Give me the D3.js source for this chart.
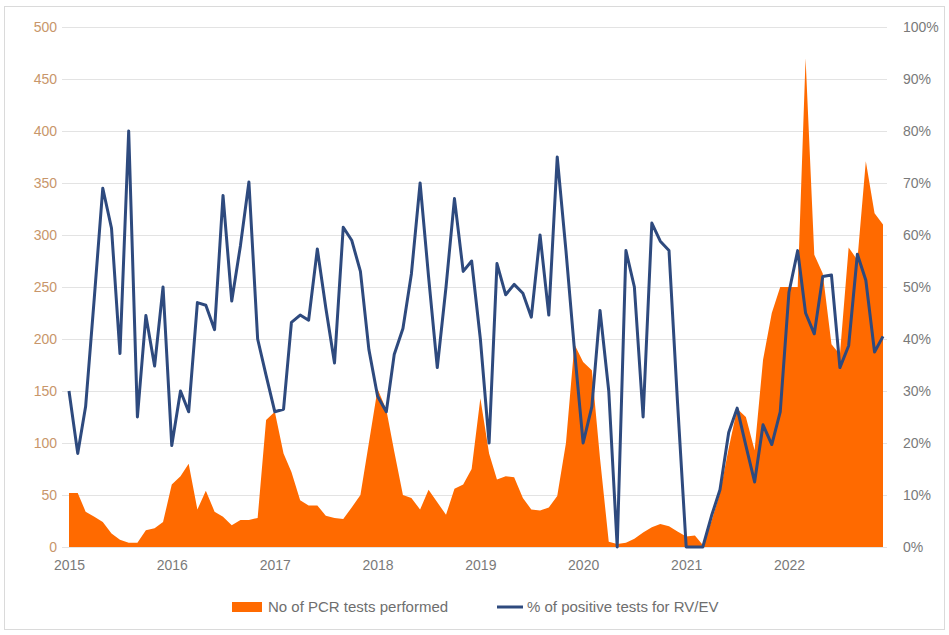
<!DOCTYPE html>
<html>
<head>
<meta charset="utf-8">
<script src="https://cdn.jsdelivr.net/npm/d3@7"></script>
<style>
  body { margin: 0; background: #fff; }
  text { font-family: "Liberation Sans", Arial, sans-serif; }
</style>
</head>
<body>
<div class="chart"></div>
<script>
// tick labels
var years = [2015, 2016, 2017, 2018, 2019, 2020, 2021, 2022];
var leftTicks = [0, 50, 100, 150, 200, 250, 300, 350, 400, 450, 500];
var rightTicks = [0, 0.1, 0.2, 0.3, 0.4, 0.5, 0.6, 0.7, 0.8, 0.9, 1];

// monthly number of PCR tests, Jan 2015 .. Dec 2022
var pcrTests = [
  52, 52, 34, 29, 24, 13, 7, 4, 4, 16, 18, 24,
  60, 68, 80, 36, 54, 34, 29, 21, 26, 26, 28, 122,
  130, 90, 72, 45, 40, 40, 30, 28, 27, 38, 50, 100,
  152, 132, 92, 50, 47, 36, 55, 43, 31, 56, 60, 75,
  143, 90, 65, 68, 67, 47, 36, 35, 38, 49, 100, 195,
  178, 170, 85, 5, 3, 4, 8, 14, 19, 22, 20, 15,
  10, 11, 2, 25, 52, 95, 133, 125, 93, 180, 225, 250,
  250, 250, 470, 281, 263, 195, 185, 288, 276, 371, 321, 310
];

// monthly % of positive tests for RV/EV
var pctPositive = [
  30, 18, 27, 48, 69, 61.3, 37.2, 80, 25, 44.5, 34.8, 50,
  19.5, 30, 26, 47, 46.5, 41.8, 67.6, 47.3, 58, 70.2, 40, 33,
  26, 26.5, 43.2, 44.6, 43.6, 57.3, 46, 35.4, 61.5, 59, 53, 38,
  29, 26, 37, 42, 52.5, 70, 52, 34.5, 50, 67, 53, 55,
  40, 20, 54.5, 48.5, 50.5, 48.8, 44.2, 60, 44.6, 75, 57, 38,
  20, 27, 45.5, 30, 0, 57, 50, 25, 62.3, 58.8, 57, 28,
  0, 0, 0, 6, 11, 22, 26.7, 19.5, 12.5, 23.5, 19.7, 26,
  49, 57, 45, 41, 52, 52.3, 34.5, 38.7, 56.3, 51.3, 37.5, 40.5
];

var seriesNames = ["No of PCR tests performed", "% of positive tests for RV/EV"];

var width = 949;
var height = 635;
var orange = "#FF6A00";
var blue = "#2E4A7E";

var months = d3.timeMonth.range(new Date(2015, 0, 1), new Date(2023, 0, 1));
var data = months.map(function (m, i) {
  return { date: m, tests: pcrTests[i], pct: pctPositive[i] / 100 };
});

var svg = d3.select(".chart")
  .append("svg")
  .attr("width", width)
  .attr("height", height);

// outer frame
svg.append("rect")
  .attr("x", 4.5).attr("y", 6.5)
  .attr("width", 940).attr("height", 623)
  .attr("fill", "none")
  .attr("stroke", "#DADADA");

// scales
var x = d3.scaleTime()
  .domain([months[0], months[months.length - 1]])
  .range([69, 883]);
var yLeft = d3.scaleLinear().domain([0, 500]).range([547, 27]);
var yRight = d3.scaleLinear().domain([0, 1]).range([547, 27]);

// gridlines
svg.append("g")
  .selectAll("line")
  .data(leftTicks)
  .enter()
  .append("line")
  .attr("x1", 62).attr("x2", 887)
  .attr("y1", function (d) { return yLeft(d) + 0.5; })
  .attr("y2", function (d) { return yLeft(d) + 0.5; })
  .attr("stroke", "#E3E3E3")
  .attr("stroke-width", 1);

// area
var area = d3.area()
  .x(function (d) { return x(d.date); })
  .y0(yLeft(0))
  .y1(function (d) { return yLeft(d.tests); });

svg.append("path")
  .datum(data)
  .attr("fill", orange)
  .attr("d", area);

// line
var line = d3.line()
  .x(function (d) { return x(d.date); })
  .y(function (d) { return yRight(d.pct); });

svg.append("path")
  .datum(data)
  .attr("fill", "none")
  .attr("stroke", blue)
  .attr("stroke-width", 3)
  .attr("stroke-linejoin", "round")
  .attr("d", line);

// left axis
var leftAxis = d3.axisLeft(yLeft).tickValues(leftTicks).tickSize(0).tickPadding(0);
var gl = svg.append("g")
  .attr("transform", "translate(57,0)")
  .call(leftAxis);
gl.select(".domain").remove();
gl.selectAll("text")
  .attr("fill", "#C8966A")
  .style("font-size", "14px");

// right axis
var rightAxis = d3.axisRight(yRight).tickValues(rightTicks).tickSize(0).tickPadding(0)
  .tickFormat(d3.format(".0%"));
var gr = svg.append("g")
  .attr("transform", "translate(903,0)")
  .call(rightAxis);
gr.select(".domain").remove();
gr.selectAll("text")
  .attr("fill", "#7A7A7A")
  .style("font-size", "14px");

// bottom axis
var bottomAxis = d3.axisBottom(x)
  .tickValues(years.map(function (y) { return new Date(y, 0, 1); }))
  .tickFormat(d3.timeFormat("%Y"))
  .tickSize(0).tickPadding(13);
var gb = svg.append("g")
  .attr("transform", "translate(0,547)")
  .call(bottomAxis);
gb.select(".domain").remove();
gb.selectAll("text")
  .attr("fill", "#7A7A7A")
  .style("font-size", "14px");

// legend
var legend = svg.append("g");
legend.append("rect")
  .attr("x", 232).attr("y", 602)
  .attr("width", 30).attr("height", 10)
  .attr("fill", orange);
legend.append("text")
  .attr("x", 268).attr("y", 612)
  .attr("fill", "#6E6E6E")
  .style("font-size", "15px")
  .text(seriesNames[0]);
legend.append("line")
  .attr("x1", 497).attr("x2", 523)
  .attr("y1", 607).attr("y2", 607)
  .attr("stroke", blue)
  .attr("stroke-width", 3);
legend.append("text")
  .attr("x", 527).attr("y", 612)
  .attr("fill", "#6E6E6E")
  .style("font-size", "15px")
  .text(seriesNames[1]);
</script>
</body>
</html>
